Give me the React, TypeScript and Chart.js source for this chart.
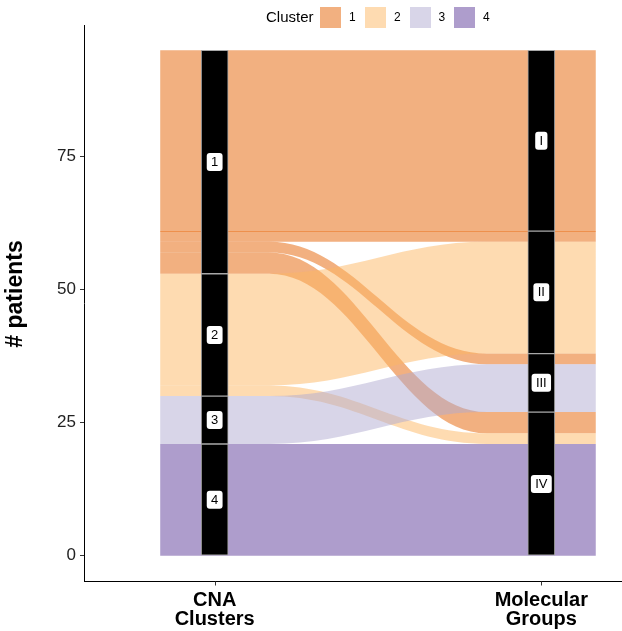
import React, { useEffect, useRef } from 'react';
import { Chart, registerables } from 'chart.js';

Chart.register(...registerables);

// Strata on each axis, listed top to bottom
const cnaClusters = ['1', '2', '3', '4'];
const molecularGroups = ['I', 'II', 'III', 'IV'];

// Patients per CNA cluster (rows) and molecular group (columns)
const clusterToGroup = [
  [34, 2, 2, 4],
  [0, 21, 0, 2],
  [0, 0, 9, 0],
  [0, 0, 0, 21],
];

const axisPositions = [1, 2];
const axisLabels = [['CNA', 'Clusters'], ['Molecular', 'Groups']];
const yTickValues = [0, 25, 50, 75];
const yAxisTitle = '# patients';
const legendTitle = 'Cluster';
const clusterColors = ['#E66101', '#FDB863', '#B2ABD2', '#5E3C99'];

const FONT = '"Liberation Sans", Arial, Helvetica, sans-serif';
const FLOW_ALPHA = 0.5;
const FLOW_HALF_WIDTH = 1 / 6;
const TICK_LEN = 4;

const withAlpha = (hex: string, a: number) => {
  const n = parseInt(hex.slice(1), 16);
  return `rgba(${(n >> 16) & 255}, ${(n >> 8) & 255}, ${n & 255}, ${a})`;
};

const sum = (xs: number[]) => xs.reduce((a, b) => a + b, 0);
const clusterTotals = clusterToGroup.map((row) => sum(row));
const groupTotals = molecularGroups.map((_, j) => sum(clusterToGroup.map((row) => row[j])));
const grandTotal = sum(clusterTotals);

type Span = { top: number; bottom: number };
const stackSpans = (totals: number[]): Span[] => {
  let top = grandTotal;
  return totals.map((t) => {
    const s = { top, bottom: top - t };
    top -= t;
    return s;
  });
};
const clusterSpans = stackSpans(clusterTotals);
const groupSpans = stackSpans(groupTotals);

type Flow = { cluster: number; lTop: number; lBot: number; rTop: number; rBot: number };
const flows: Flow[] = [];
clusterToGroup.forEach((row, i) => {
  row.forEach((n, j) => {
    if (n <= 0) return;
    const lOff = sum(row.slice(0, j));
    const rOff = sum(clusterToGroup.slice(0, i).map((r) => r[j]));
    const lTop = clusterSpans[i].top - lOff;
    const rTop = groupSpans[j].top - rOff;
    flows.push({ cluster: i, lTop, lBot: lTop - n, rTop, rBot: rTop - n });
  });
});

const strataBars = [
  ...clusterSpans.map((s) => ({ x: axisPositions[0], y: [s.bottom, s.top] })),
  ...groupSpans.map((s) => ({ x: axisPositions[1], y: [s.bottom, s.top] })),
];
const strataLabels = [...cnaClusters, ...molecularGroups];

const flowPlugin = {
  id: 'alluvialFlows',
  beforeDatasetsDraw(chart: any) {
    const { ctx, scales } = chart;
    const xs = scales.x;
    const ys = scales.y;
    const x0 = axisPositions[0];
    const x1 = axisPositions[1];
    const a = xs.getPixelForValue(x0 - FLOW_HALF_WIDTH);
    const b = xs.getPixelForValue(x0 + FLOW_HALF_WIDTH);
    const c = xs.getPixelForValue(x1 - FLOW_HALF_WIDTH);
    const d = xs.getPixelForValue(x1 + FLOW_HALF_WIDTH);
    const k = 0.4 * (c - b);
    ctx.save();
    flows.forEach((f) => {
      const lt = ys.getPixelForValue(f.lTop);
      const lb = ys.getPixelForValue(f.lBot);
      const rt = ys.getPixelForValue(f.rTop);
      const rb = ys.getPixelForValue(f.rBot);
      ctx.beginPath();
      ctx.moveTo(a, lt);
      ctx.lineTo(b, lt);
      ctx.bezierCurveTo(b + k, lt, c - k, rt, c, rt);
      ctx.lineTo(d, rt);
      ctx.lineTo(d, rb);
      ctx.lineTo(c, rb);
      ctx.bezierCurveTo(c - k, rb, b + k, lb, b, lb);
      ctx.lineTo(a, lb);
      ctx.closePath();
      ctx.fillStyle = withAlpha(clusterColors[f.cluster], FLOW_ALPHA);
      ctx.fill();
    });
    // seam along the lower edge of the first alluvium
    const first = flows[0];
    const yl = Math.round(ys.getPixelForValue(first.lBot)) + 0.5;
    ctx.beginPath();
    ctx.moveTo(a, yl);
    ctx.lineTo(d, yl);
    ctx.strokeStyle = withAlpha(clusterColors[0], 0.45);
    ctx.lineWidth = 1;
    ctx.stroke();
    ctx.restore();
  },
};

const labelPlugin = {
  id: 'strataLabels',
  afterDatasetsDraw(chart: any) {
    const { ctx, scales } = chart;
    ctx.save();
    ctx.font = `13px ${FONT}`;
    ctx.textAlign = 'center';
    ctx.textBaseline = 'middle';
    strataBars.forEach((bar, i) => {
      const cx = scales.x.getPixelForValue(bar.x);
      const cy = scales.y.getPixelForValue((bar.y[0] + bar.y[1]) / 2);
      const text = strataLabels[i];
      const w = ctx.measureText(text).width + 8.6;
      const h = 18;
      ctx.beginPath();
      ctx.roundRect(cx - w / 2, cy - h / 2, w, h, 3);
      ctx.fillStyle = '#ffffff';
      ctx.fill();
      ctx.fillStyle = '#000000';
      ctx.fillText(text, cx, cy + 0.5);
    });
    ctx.restore();
  },
  afterDraw(chart: any) {
    const { ctx, scales, chartArea } = chart;
    ctx.save();
    // x axis line and its tick marks
    const yb = Math.round(chartArea.bottom) + 0.5;
    ctx.strokeStyle = '#000000';
    ctx.lineWidth = 1;
    ctx.beginPath();
    ctx.moveTo(chartArea.left, yb);
    ctx.lineTo(chartArea.right, yb);
    ctx.stroke();
    ctx.strokeStyle = '#333333';
    axisPositions.forEach((v) => {
      const px = Math.round(scales.x.getPixelForValue(v)) + 0.5;
      ctx.beginPath();
      ctx.moveTo(px, yb);
      ctx.lineTo(px, yb + TICK_LEN);
      ctx.stroke();
    });
    // y axis title
    ctx.fillStyle = '#000000';
    ctx.textAlign = 'center';
    ctx.textBaseline = 'middle';
    ctx.font = `bold 23px ${FONT}`;
    ctx.translate(16, 294);
    ctx.rotate(-Math.PI / 2);
    ctx.fillText(yAxisTitle, 0, 0);
    ctx.restore();
  },
};

export default function App() {
  const canvasRef = useRef<HTMLCanvasElement | null>(null);

  useEffect(() => {
    const canvas = canvasRef.current;
    if (!canvas) return;
    const chart = new Chart(canvas, {
      type: 'bar',
      data: {
        datasets: [
          {
            data: strataBars as any,
            backgroundColor: '#000000',
            borderColor: '#a8a8a8',
            borderWidth: 1,
            borderSkipped: false,
            barThickness: 27,
            grouped: false,
          } as any,
        ],
      },
      options: {
        animation: false,
        responsive: false,
        maintainAspectRatio: false,
        devicePixelRatio: 1,
        layout: { padding: { top: 25, left: 0, right: 0, bottom: 0 } },
        plugins: {
          legend: { display: false },
          tooltip: { enabled: false },
        },
        scales: {
          x: {
            type: 'linear',
            min: 0.6,
            max: 2.247,
            offset: false,
            title: { display: false },
            grid: { display: false, drawTicks: false, offset: false },
            border: { display: false },
            afterBuildTicks: (s: any) => {
              s.ticks = axisPositions.map((v) => ({ value: v }));
            },
            afterFit: (s: any) => {
              s.height = 50;
            },
            ticks: {
              autoSkip: false,
              maxRotation: 0,
              padding: 10,
              color: '#000000',
              font: { family: FONT, size: 20, weight: 'bold', lineHeight: 0.95 },
              callback: (v: any) => axisLabels[axisPositions.indexOf(Number(v))],
            },
          },
          y: {
            type: 'linear',
            min: -4.75,
            max: 99.75,
            grid: {
              display: true,
              drawOnChartArea: false,
              tickLength: TICK_LEN,
              color: '#333333',
            },
            border: { display: true, color: '#000000', width: 1 },
            afterBuildTicks: (s: any) => {
              s.ticks = yTickValues.map((v) => ({ value: v }));
            },
            afterFit: (s: any) => {
              s.width = 84;
            },
            ticks: {
              padding: 4,
              color: '#222222',
              font: { family: FONT, size: 17 },
            },
          },
        },
      } as any,
      plugins: [flowPlugin, labelPlugin],
    });
    return () => chart.destroy();
  }, []);

  const keyLefts = [320, 365, 409.5, 454];

  return (
    <div style={{ position: 'fixed', left: 0, top: 0, width: 622, height: 631, background: '#ffffff' }}>
      <canvas ref={canvasRef} width={622} height={631} style={{ display: 'block', width: 622, height: 631 }} />
      <div style={{ position: 'absolute', left: 0, top: 0, width: 622, height: 34, fontFamily: FONT }}>
        <span style={{ position: 'absolute', left: 266, top: 8, fontSize: 15, lineHeight: '18px', color: '#000' }}>
          {legendTitle}
        </span>
        {cnaClusters.map((c, i) => (
          <React.Fragment key={c}>
            <span
              style={{
                position: 'absolute',
                left: keyLefts[i],
                top: 7,
                width: 21,
                height: 21,
                background: withAlpha(clusterColors[i], FLOW_ALPHA),
              }}
            />
            <span
              style={{ position: 'absolute', left: keyLefts[i] + 29, top: 10, fontSize: 12, lineHeight: '15px', color: '#000' }}
            >
              {c}
            </span>
          </React.Fragment>
        ))}
      </div>
    </div>
  );
}
